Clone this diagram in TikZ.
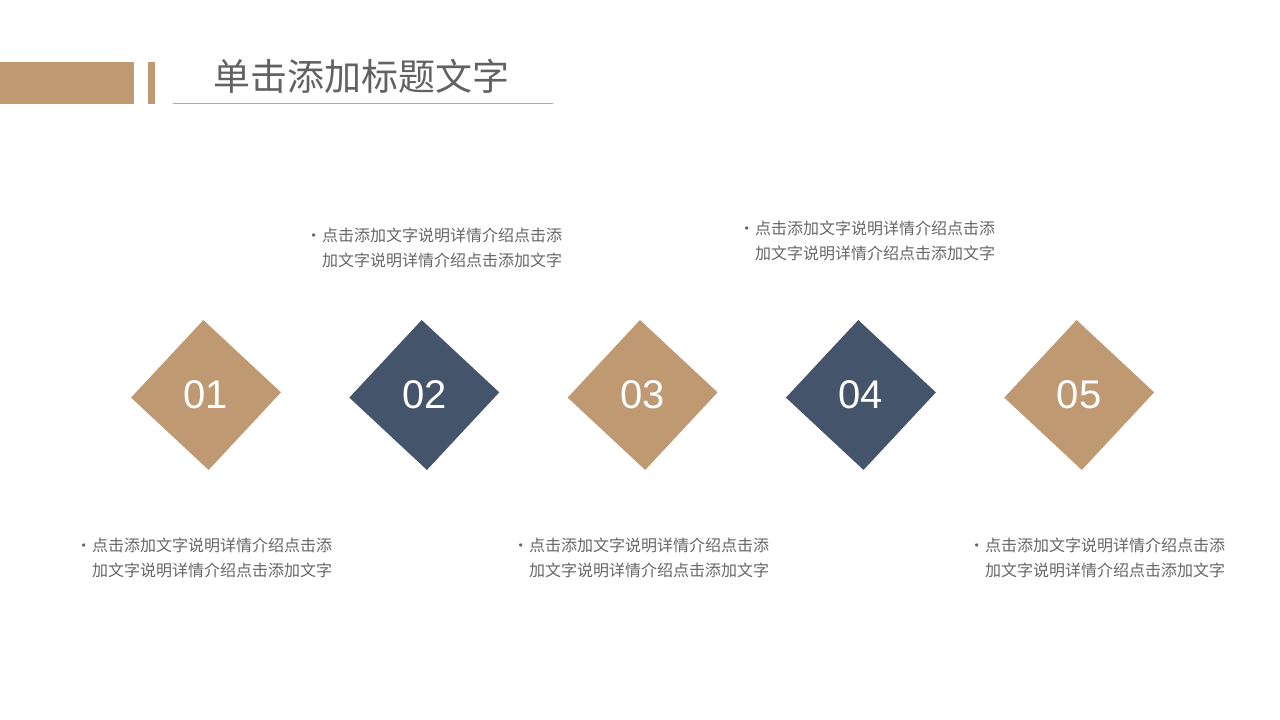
\documentclass[tikz,border=0pt]{standalone}
\usepackage{fontspec}
\usetikzlibrary{shapes.geometric, positioning}
\newfontfamily\cjk{Noto Sans CJK SC}
\newfontfamily\numfont{Liberation Sans}
\definecolor{mbrown}{HTML}{BE9971}
\definecolor{mnavy}{HTML}{44546A}
\definecolor{mtext}{HTML}{666666}
\definecolor{mtitle}{HTML}{626262}
\definecolor{mline}{HTML}{BFA88C}
\newcommand{\notebullet}{\llap{{\normalfont\fontsize{15}{15}\selectfont\raisebox{2.5pt}{\textbullet}}\hspace{3pt}}}
\tikzstyle{tanbox} = [regular polygon, regular polygon sides=4, shape border rotate=47, minimum size=150pt, inner sep=0, text=white, fill=mbrown, font=\numfont\fontsize{40}{40}\selectfont]
\tikzstyle{navybox} = [tanbox, fill=mnavy]
\tikzstyle{note} = [align=left, inner sep=0, anchor=north west, text=mtext, font=\cjk\fontsize{16}{25}\selectfont]
\tikzstyle{heading} = [inner sep=0, anchor=west, text=mtitle, font=\cjk\fontsize{37}{37}\selectfont]

\begin{document}
\begin{tikzpicture}[x=1pt, y=1pt, node distance=218.3pt, on grid]
\useasboundingbox (0,0) rectangle (1280,720);
%Header
\fill [mbrown] (0,616) rectangle (134,658);
\fill [mbrown] (148,616) rectangle (155,658);
\draw [mline, line width=1pt] (173,616) -- (553,616);
\node (title) [heading] at (213,644) {单击添加标题文字};
%Steps
\node (d1) [tanbox] at (206,325) {\raisebox{-2pt}{01}};
\node (d2) [navybox, right = of d1] {\raisebox{-2pt}{02}};
\node (d3) [tanbox, right = of d2] {\raisebox{-2pt}{03}};
\node (d4) [navybox, right = of d3] {\raisebox{-2pt}{04}};
\node (d5) [tanbox, right = of d4] {\raisebox{-2pt}{05}};
%Notes
\node (n1) [note] at (92,182) {\notebullet 点击添加文字说明详情介绍点击添\\加文字说明详情介绍点击添加文字};
\node (n2) [note] at (322,492) {\notebullet 点击添加文字说明详情介绍点击添\\加文字说明详情介绍点击添加文字};
\node (n3) [note] at (529,182) {\notebullet 点击添加文字说明详情介绍点击添\\加文字说明详情介绍点击添加文字};
\node (n4) [note] at (755,499) {\notebullet 点击添加文字说明详情介绍点击添\\加文字说明详情介绍点击添加文字};
\node (n5) [note] at (985,182) {\notebullet 点击添加文字说明详情介绍点击添\\加文字说明详情介绍点击添加文字};
\end{tikzpicture}
\end{document}
